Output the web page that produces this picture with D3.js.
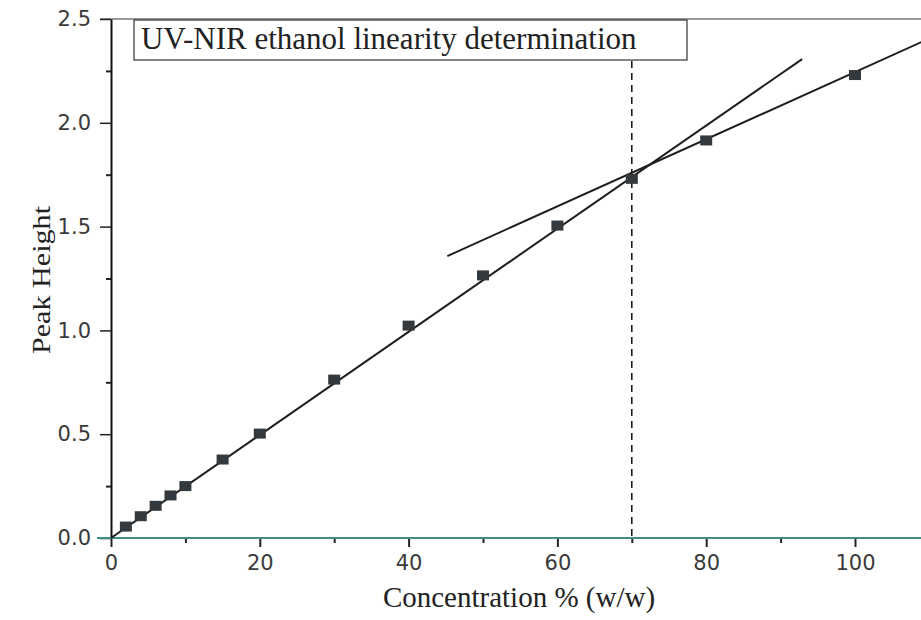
<!DOCTYPE html>
<html>
<head>
<meta charset="utf-8">
<script src="https://cdn.jsdelivr.net/npm/d3@7"></script>
<style>
	body { margin: 0; background: #fff; }
	svg { display: block; }
	.serif { font-family: "Liberation Serif", "Times New Roman", serif; fill: #222; }
</style>
</head>
<body>
<div id="graph"></div>
<script>
var width = 921;
var height = 620;

// measured points
var concentration = [2, 4, 6, 8, 10, 15, 20, 30, 40, 50, 60, 70, 80, 100];
var peakHeight = [0.055, 0.105, 0.155, 0.205, 0.25, 0.378, 0.503, 0.763, 1.023, 1.265, 1.505, 1.73, 1.915, 2.23];

// the two fitted lines, [x, y] at each end
var fitLow = [[0, 0], [92.9, 2.307]];
var fitHigh = [[45.2, 1.358], [109, 2.39]];

var cutoff = 70;
var xTicks = [0, 20, 40, 60, 80, 100];
var xMinor = [10, 30, 50, 70, 90];
var yTicks = [0, 0.5, 1.0, 1.5, 2.0, 2.5];
var yMinor = [0.25, 0.75, 1.25, 1.75, 2.25];
var title = "UV-NIR ethanol linearity determination";

var xScale = d3.scaleLinear().domain([0, 100]).range([111, 855]);
var yScale = d3.scaleLinear().domain([0, 2.5]).range([538, 19]);

var chart = d3.select("#graph")
	.append("svg")
	.attr("width", width)
	.attr("height", height);

function styleLabels(g) {
	g.selectAll(".tick text")
		.attr("font-family", "'DejaVu Sans', Arial, sans-serif")
		.attr("font-size", 21)
		.attr("fill", "#3a3a3a");
}

// top border
chart.append("line")
	.attr("x1", 100).attr("x2", width)
	.attr("y1", yScale(2.5)).attr("y2", yScale(2.5))
	.attr("stroke", "#777").attr("stroke-width", 1.5);

// minor ticks first, then the main axes on top
chart.append("g")
	.attr("transform", "translate(0," + yScale(0) + ")")
	.call(d3.axisBottom(xScale).tickValues(xMinor).tickSize(5).tickFormat(""))
	.call(function (g) { g.select(".domain").remove(); })
	.selectAll("line").attr("stroke", "#222").attr("stroke-width", 2);

chart.append("g")
	.attr("transform", "translate(" + xScale(0) + ",0)")
	.call(d3.axisLeft(yScale).tickValues(yMinor).tickSize(5).tickFormat(""))
	.call(function (g) { g.select(".domain").remove(); })
	.selectAll("line").attr("stroke", "#222").attr("stroke-width", 2);

var xAxis = chart.append("g")
	.attr("transform", "translate(0," + yScale(0) + ")")
	.call(d3.axisBottom(xScale).tickValues(xTicks).tickSize(9).tickPadding(8).tickSizeOuter(0))
	.call(styleLabels);
xAxis.select(".domain").remove();
xAxis.selectAll("line").attr("stroke", "#222").attr("stroke-width", 2);

var yAxis = chart.append("g")
	.attr("transform", "translate(" + xScale(0) + ",0)")
	.call(d3.axisLeft(yScale).tickValues(yTicks).tickSize(11).tickPadding(9).tickSizeOuter(0)
		.tickFormat(d3.format(".1f")))
	.call(styleLabels);
yAxis.select(".domain").attr("stroke", "#111").attr("stroke-width", 2);
yAxis.selectAll(".tick line").attr("stroke", "#222").attr("stroke-width", 1.5);

// x axis baseline (teal)
chart.append("line")
	.attr("x1", 97).attr("x2", width)
	.attr("y1", yScale(0)).attr("y2", yScale(0))
	.attr("stroke", "#3f8c8a").attr("stroke-width", 2);

// title box
var box = chart.append("g");
box.append("rect")
	.attr("x", 134).attr("y", 20)
	.attr("width", 553).attr("height", 40)
	.attr("fill", "#fff").attr("stroke", "#333").attr("stroke-width", 1.2);
box.append("text")
	.attr("class", "serif")
	.attr("x", 141).attr("y", 49)
	.style("font-size", "31px")
	.text(title);

// dashed cutoff line
chart.append("line")
	.attr("x1", xScale(cutoff)).attr("x2", xScale(cutoff))
	.attr("y1", 61).attr("y2", yScale(0))
	.attr("stroke", "#111").attr("stroke-width", 1.5)
	.attr("stroke-dasharray", "7,5");

// fit lines
var line = d3.line()
	.x(function (d) { return xScale(d[0]); })
	.y(function (d) { return yScale(d[1]); });

[fitLow, fitHigh].forEach(function (f) {
	chart.append("path")
		.attr("d", line(f))
		.attr("fill", "none")
		.attr("stroke", "#1e1e1e")
		.attr("stroke-width", 2);
});

// markers
var pts = concentration.map(function (c, i) { return [c, peakHeight[i]]; });
chart.selectAll("rect.pt")
	.data(pts)
	.enter()
	.append("rect")
	.attr("class", "pt")
	.attr("x", function (d) { return xScale(d[0]) - 6; })
	.attr("y", function (d) { return yScale(d[1]) - 5; })
	.attr("width", 12)
	.attr("height", 10)
	.attr("fill", "#33393c");

// axis labels
chart.append("text")
	.attr("class", "serif")
	.attr("x", 519).attr("y", 607)
	.attr("text-anchor", "middle")
	.style("font-size", "29px")
	.text("Concentration % (w/w)");

chart.append("text")
	.attr("class", "serif")
	.attr("transform", "translate(50,280) rotate(-90)")
	.attr("text-anchor", "middle")
	.attr("textLength", 148)
	.attr("lengthAdjust", "spacingAndGlyphs")
	.style("font-size", "25px")
	.text("Peak Height");
</script>
</body>
</html>
